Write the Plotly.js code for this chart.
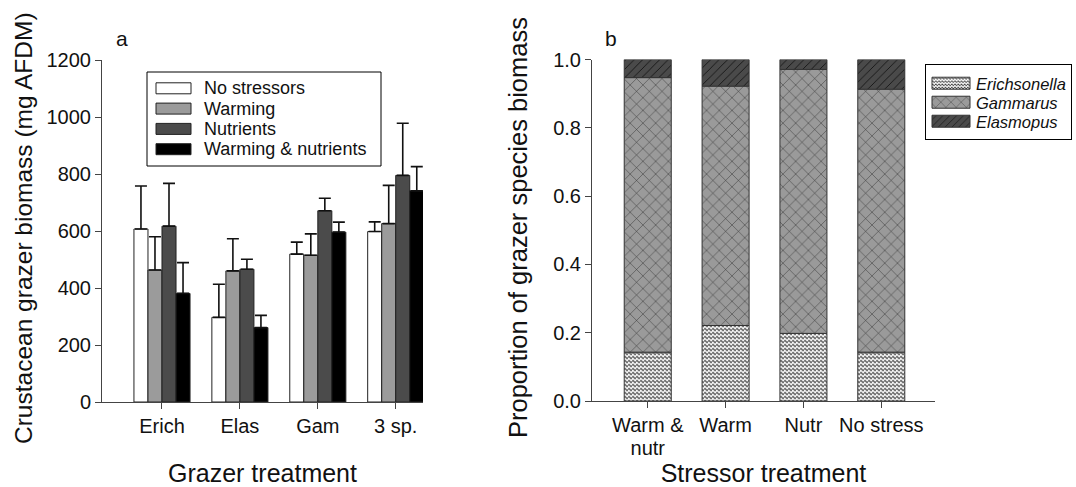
<!DOCTYPE html>
<html><head><meta charset="utf-8">
<script src="https://cdn.plot.ly/plotly-3.0.1.min.js"></script>
<style>html,body{margin:0;padding:0;background:#fff}#chart{width:1076px;height:487px}</style>
</head><body><div id="chart"></div>
<script>
// ---- Panel a data ----
const grazerGroups = ['Erich', 'Elas', 'Gam', '3 sp.'];
const stressorNames = ['No stressors', 'Warming', 'Nutrients', 'Warming & nutrients'];
const noStress = [607, 297, 519, 598];
const warming = [463, 460, 515, 626];
const nutrients = [617, 466, 671, 795];
const warmNutr = [381, 261, 596, 741];
const noStressSE = [151, 116, 42, 34];
const warmingSE = [117, 113, 75, 134];
const nutrientsSE = [150, 35, 44, 183];
const warmNutrSE = [108, 43, 35, 85];
const biomassTicks = [0, 200, 400, 600, 800, 1000, 1200];

// ---- Panel b data ----
const stressorTreatments = ['Warm &<br>nutr', 'Warm', 'Nutr', 'No stress'];
const speciesNames = ['Erichsonella', 'Gammarus', 'Elasmopus'];
const erichsonella = [0.143, 0.221, 0.198, 0.143];
const gammarus = [0.804, 0.701, 0.773, 0.770];
const elasmopus = [0.053, 0.078, 0.029, 0.087];

const W = 1076, H = 487;
const px = v => v / W;
const py = v => 1 - v / H;

const aColors = ['#ffffff', '#9b9b9b', '#4b4b4b', '#000000'];
const aVals = [noStress, warming, nutrients, warmNutr];
const aSE = [noStressSE, warmingSE, nutrientsSE, warmNutrSE];

const traces = [];
aVals.forEach((v, i) => {
  traces.push({
    type: 'bar', x: grazerGroups, y: v, name: stressorNames[i],
    xaxis: 'x', yaxis: 'y', showlegend: false,
    marker: {color: aColors[i], line: {color: '#222', width: 1}},
    error_y: {type: 'data', symmetric: false, array: aSE[i], arrayminus: v.map(() => 0),
              color: '#111', thickness: 1.6, width: 6}
  });
});

const bCum1 = erichsonella;
const bCum2 = erichsonella.map((e, i) => e + gammarus[i]);
const bSpecs = [
  {y: erichsonella, base: stressorTreatments.map(() => 0), color: '#ffffff',
   pattern: {shape: '-', size: 4, solidity: 0.25, fgcolor: '#222222', bgcolor: '#ffffff', fillmode: 'replace'}},
  {y: gammarus, base: bCum1, color: '#9a9a9a',
   pattern: {shape: 'x', size: 9, solidity: 0.1, fgcolor: '#2a2a2a', bgcolor: '#9a9a9a', fillmode: 'replace'}},
  {y: elasmopus, base: bCum2, color: '#4a4a4a',
   pattern: {shape: '/', size: 6, solidity: 0.15, fgcolor: '#151515', bgcolor: '#4a4a4a', fillmode: 'replace'}}
];
bSpecs.forEach((s, i) => {
  traces.push({
    type: 'bar', x: stressorTreatments, y: s.y, base: s.base, name: speciesNames[i],
    xaxis: 'x2', yaxis: 'y2', offsetgroup: 'b', width: 0.604,
    marker: {color: s.color, line: {color: '#333', width: 1}, pattern: s.pattern}
  });
});

const axisCommon = {
  showline: true, linecolor: '#444', linewidth: 1, ticks: 'outside', ticklen: 6,
  tickcolor: '#444', tickwidth: 1, showgrid: false, zeroline: false,
  tickfont: {size: 20, color: '#111'}
};

const shapes = [];
const annotations = [];
// legend for panel a (drawn by hand to match the compact original box)
shapes.push({type: 'rect', xref: 'paper', yref: 'paper', x0: px(147), x1: px(381), y0: py(166), y1: py(72),
             line: {color: '#000', width: 1}, fillcolor: '#ffffff', layer: 'above'});
stressorNames.forEach((n, i) => {
  const cy = 88.3 + i * 20.3;
  shapes.push({type: 'rect', xref: 'paper', yref: 'paper', x0: px(156), x1: px(191), y0: py(cy + 5.5), y1: py(cy - 5.5),
               fillcolor: aColors[i], line: {color: '#222', width: 1}, layer: 'above'});
  annotations.push({text: n, xref: 'paper', yref: 'paper', x: px(202), y: py(cy), xanchor: 'left', yanchor: 'middle',
                    showarrow: false, font: {size: 18, color: '#111'}});
});
annotations.push({text: 'a', xref: 'paper', yref: 'paper', x: px(122), y: py(38), xanchor: 'center', yanchor: 'middle',
                  showarrow: false, font: {size: 21, color: '#111'}});
annotations.push({text: 'b', xref: 'paper', yref: 'paper', x: px(611), y: py(38), xanchor: 'center', yanchor: 'middle',
                  showarrow: false, font: {size: 21, color: '#111'}});
// y-axis titles placed where the original has them
annotations.push({text: 'Crustacean grazer biomass (mg AFDM)', xref: 'paper', yref: 'paper', x: px(23), y: py(228),
                  xanchor: 'center', yanchor: 'middle', textangle: -90, showarrow: false, font: {size: 24.5, color: '#111'}});
annotations.push({text: 'Proportion of grazer species biomass', xref: 'paper', yref: 'paper', x: px(518), y: py(228),
                  xanchor: 'center', yanchor: 'middle', textangle: -90, showarrow: false, font: {size: 25.5, color: '#111'}});

const layout = {
  width: W, height: H,
  margin: {l: 0, r: 0, t: 0, b: 0, autoexpand: false},
  paper_bgcolor: '#ffffff', plot_bgcolor: 'rgba(0,0,0,0)',
  font: {family: 'Liberation Sans, Arial, Helvetica, sans-serif', size: 20, color: '#111'},
  barmode: 'group', bargap: 0.28, bargroupgap: 0,
  showlegend: true,
  xaxis: Object.assign({}, axisCommon, {domain: [px(102), px(423)], anchor: 'y', type: 'category',
          range: [-0.77, 3.35], title: {text: 'Grazer treatment', font: {size: 25, color: '#111'}}}),
  yaxis: Object.assign({}, axisCommon, {domain: [py(402), py(60)], anchor: 'x', range: [0, 1200],
          tickvals: biomassTicks}),
  xaxis2: Object.assign({}, axisCommon, {domain: [px(592), px(935)], anchor: 'y2', type: 'category',
          range: [-0.716, 3.69], title: {text: 'Stressor treatment', font: {size: 25, color: '#111'}}}),
  yaxis2: Object.assign({}, axisCommon, {domain: [py(401), py(59.5)], anchor: 'x2', range: [0, 1],
          dtick: 0.2, tick0: 0, tickformat: '.1f'}),
  legend: {x: px(925), y: py(64), xanchor: 'left', yanchor: 'top', bordercolor: '#000', borderwidth: 1,
           bgcolor: '#ffffff', font: {size: 16.5, style: 'italic', color: '#111'}, itemwidth: 40, tracegroupgap: 0},
  shapes: shapes,
  annotations: annotations
};

function touchUp(gd) {
  // turn the plain line fill of Erichsonella into the wavy texture of the original
  gd.querySelectorAll('pattern').forEach(p => {
    const path = p.querySelector('path');
    if (path && /^M0,/.test(path.getAttribute('d') || '')) {
      const w = parseFloat(p.getAttribute('width')), h = parseFloat(p.getAttribute('height'));
      path.setAttribute('d', 'M0,' + (h / 2) + ' Q' + (w / 4) + ',' + (h / 2 - 2) + ' ' + (w / 2) + ',' + (h / 2) + ' T' + w + ',' + (h / 2));
      path.setAttribute('fill', 'none');
      path.style.fill = 'none';
      path.setAttribute('stroke-width', '1.1');
      path.style.strokeWidth = '1.1px';
    }
  });
  // wider legend swatches and the compact row spacing of the original legend
  gd.querySelectorAll('.legend .legendpoints path').forEach(p => p.setAttribute('d', 'M19,6H-19V-6H19Z'));
  const items = gd.querySelectorAll('.legend .traces');
  if (items.length) {
    if (!gd._row0) {
      const m = /translate\(([-\d.]+)[ ,]+([-\d.]+)\)/.exec(items[0].getAttribute('transform') || '');
      gd._row0 = m ? [parseFloat(m[1]), parseFloat(m[2])] : [0, 0];
    }
    items.forEach((it, i) => it.setAttribute('transform',
      'translate(' + gd._row0[0] + ',' + (gd._row0[1] + 1 + i * 19) + ')'));
    const bg = gd.querySelector('.legend rect.bg');
    if (bg) bg.setAttribute('height', 75);
  }
  // slightly tighter line spacing for the two-line tick label
  gd.querySelectorAll('.xaxislayer-above text tspan.line').forEach(t => {
    const dy = t.getAttribute('dy');
    if (dy && parseFloat(dy) > 0) t.setAttribute('dy', '1.15em');
  });
}

Plotly.newPlot('chart', traces, layout, {staticPlot: true}).then(gd => {
  touchUp(gd);
  gd.on('plotly_afterplot', () => touchUp(gd));
  setTimeout(() => touchUp(gd), 50);
});
</script>
</body></html>
